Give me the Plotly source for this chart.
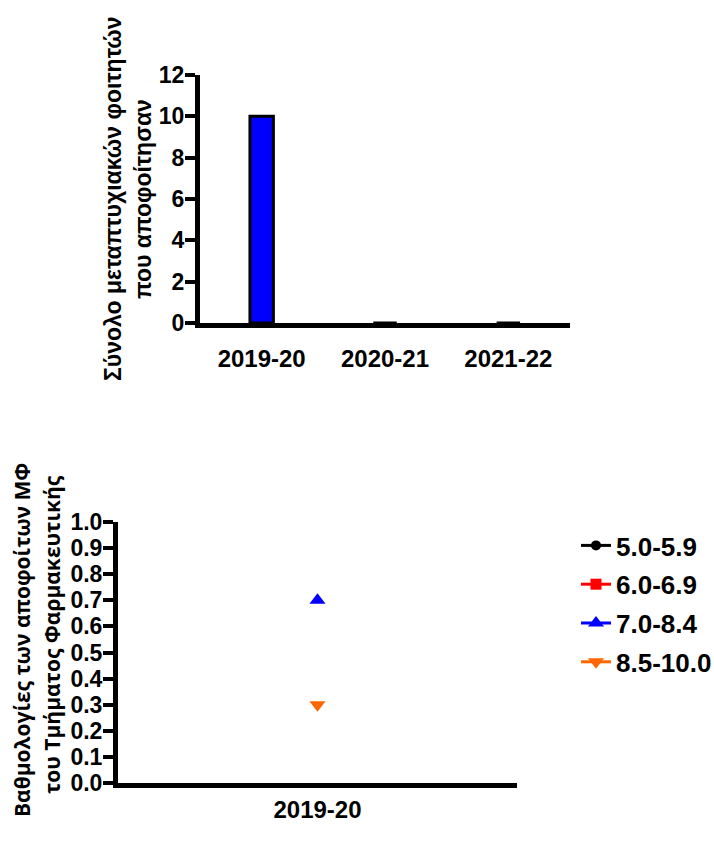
import plotly.graph_objects as go

# Graduates per academic year
years = ["2019-20", "2020-21", "2021-22"]
graduates = [10, 0, 0]
count_ticks = [0, 2, 4, 6, 8, 10, 12]

# Grade distribution of graduates (fraction) for 2019-20
grade_year = ["2019-20"]
grade_groups = ["5.0-5.9", "6.0-6.9", "7.0-8.4", "8.5-10.0"]
grade_values = [[None], [None], [0.7], [0.3]]
grade_ticks = [0.0, 0.1, 0.2, 0.3, 0.4, 0.5, 0.6, 0.7, 0.8, 0.9, 1.0]
grade_colors = ["#000000", "#FF0000", "#0000FF", "#FF6600"]
grade_symbols = ["circle", "square", "triangle-up", "triangle-down"]
grade_sizes = [10, 11, 14, 14]

W, H = 714, 846
FONT = "Liberation Sans, Arial, sans-serif"


def px_x(v):
    return v / W


def px_y(v):
    return 1 - v / H


def bold(s):
    return "<b>" + s + "</b>"


fig = go.Figure()

fig.add_trace(go.Bar(
    x=years, y=graduates, width=0.19,
    marker=dict(color="#0000FF", line=dict(color="#000000", width=3)),
    showlegend=False, xaxis="x", yaxis="y",
))

for name, vals, col, sym, sz in zip(grade_groups, grade_values, grade_colors,
                                    grade_symbols, grade_sizes):
    fig.add_trace(go.Scatter(
        x=grade_year, y=vals, name=bold(name), mode="lines+markers",
        marker=dict(color=col, symbol=sym, size=sz, line=dict(width=0)),
        line=dict(color=col, width=3),
        legendgroup=name, xaxis="x2", yaxis="y2",
    ))

axis_common = dict(
    showline=True, linecolor="#000000", linewidth=5,
    showgrid=False, zeroline=False, automargin=False,
    tickfont=dict(family=FONT, size=23, color="#000000"),
)

fig.update_layout(
    width=W, height=H,
    margin=dict(l=0, r=0, t=0, b=0, autoexpand=False),
    paper_bgcolor="white", plot_bgcolor="white",
    font=dict(family=FONT, color="#000000"),
    xaxis=dict(axis_common, domain=[px_x(200), px_x(570)], anchor="y",
               type="category", range=[-0.5, 2.5], ticks="",
               tickvals=years, ticktext=[bold(s) for s in years],
               ticklabelstandoff=10,
               tickfont=dict(family=FONT, size=24, color="#000000")),
    yaxis=dict(axis_common, domain=[px_y(323), px_y(75)], anchor="x",
               range=[0, 12], tickvals=count_ticks,
               ticktext=[bold(str(v)) for v in count_ticks],
               ticks="outside", ticklen=10, ticklabelstandoff=-4,
               tickwidth=4, tickcolor="#000000"),
    xaxis2=dict(axis_common, domain=[px_x(118), px_x(517)], anchor="y2",
                type="category", range=[-0.5, 0.5], ticks="",
                tickvals=grade_year, ticktext=[bold(s) for s in grade_year],
                ticklabelstandoff=1,
                tickfont=dict(family=FONT, size=24, color="#000000")),
    yaxis2=dict(axis_common, domain=[px_y(783), px_y(522)], anchor="x2",
                range=[0, 1.0], tickvals=grade_ticks,
                ticktext=[bold(f"{v:.1f}") for v in grade_ticks],
                ticks="outside", ticklabelstandoff=-4,
                ticklen=10, tickwidth=4, tickcolor="#000000"),
    legend=dict(x=px_x(576), y=px_y(522), xanchor="left", yanchor="top",
                font=dict(family=FONT, size=26, color="#000000"),
                tracegroupgap=2, bgcolor="rgba(0,0,0,0)"),
)

title_font = dict(family=FONT, size=23, color="#000000")
title_font2 = dict(family="Open Sans, Noto Sans, sans-serif", size=21,
                   color="#000000")
titles = [
    ("Σύνολο μεταπτυχιακών φοιτητών", 113, 199, title_font),
    ("που αποφοίτησαν", 143, 199, title_font),
    ("Βαθμολογίες των αποφοίτων ΜΦ", 22, 640, title_font2),
    ("του Τμήματος Φαρμακευτικής", 52, 635, title_font2),
]
for text, cx, cy, f in titles:
    fig.add_annotation(text=bold(text), x=px_x(cx), y=px_y(cy), xref="paper",
                       yref="paper", xanchor="center", yanchor="middle",
                       textangle=-90, showarrow=False, font=f)

fig.write_html("out.html")
